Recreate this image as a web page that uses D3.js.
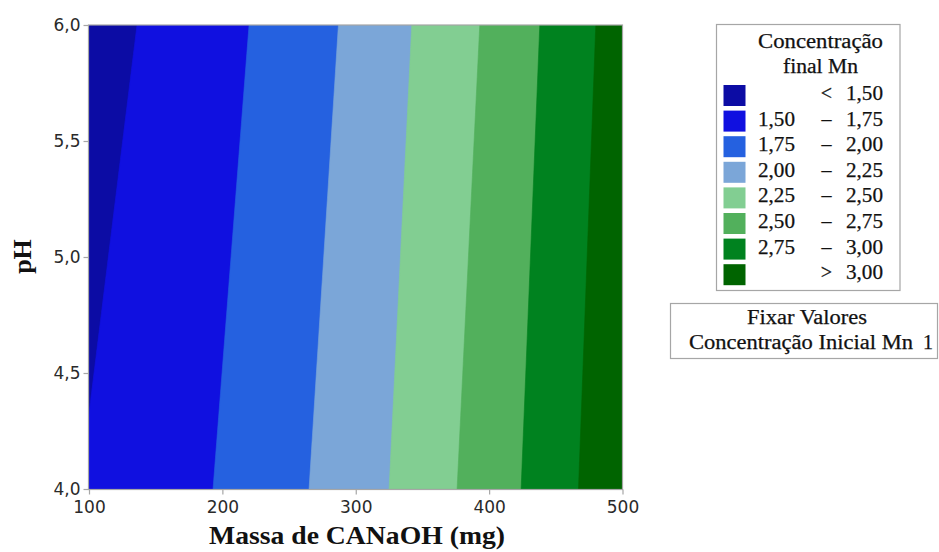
<!DOCTYPE html>
<html>
<head>
<meta charset="utf-8">
<script src="https://cdn.jsdelivr.net/npm/d3@7"></script>
<style>
  html, body { margin: 0; padding: 0; background: #fff; }
  svg { display: block; }
</style>
</head>
<body>
<svg id="chart" width="939" height="552"></svg>
<script>
// Contour levels of the final Mn concentration and where each contour
// line crosses the bottom (pH 4) and top (pH 6) of the plot, in mg.
const levels = [1.50, 1.75, 2.00, 2.25, 2.50, 2.75, 3.00];
const massAtPH4 = [93, 193, 265, 325, 376, 424, 467];
const massAtPH6 = [136, 220, 287, 342, 393, 438, 480];

// Band colours, from "< 1,50" up to "> 3,00".
const bandColors = ["#0c0ca4", "#1010e0", "#2561e0", "#7ba6d8", "#82ce92", "#52b05c", "#00821f", "#006400"];
const legendLow  = ["", "1,50", "1,75", "2,00", "2,25", "2,50", "2,75", ""];
const legendSep  = ["<", "\u2013", "\u2013", "\u2013", "\u2013", "\u2013", "\u2013", ">"];
const legendHigh = ["1,50", "1,75", "2,00", "2,25", "2,50", "2,75", "3,00", "3,00"];

const xTicks = [100, 200, 300, 400, 500];
const yTicks = [4.0, 4.5, 5.0, 5.5, 6.0];
const fmt = v => d3.format(".1f")(v).replace(".", ",");

const svg = d3.select("#chart");
const x = d3.scaleLinear().domain([100, 500]).range([89, 622.5]);
const y = d3.scaleLinear().domain([4, 6]).range([489, 25]);

// Plot area clip
svg.append("defs").append("clipPath").attr("id", "plotClip")
  .append("rect")
  .attr("x", x(100)).attr("y", y(6))
  .attr("width", x(500) - x(100)).attr("height", y(4) - y(6));

const plot = svg.append("g").attr("clip-path", "url(#plotClip)");

// Lowest band fills the whole area, each higher band is painted on top
plot.append("rect")
  .attr("x", x(100)).attr("y", y(6))
  .attr("width", x(500) - x(100)).attr("height", y(4) - y(6))
  .attr("fill", bandColors[0]);

const line = d3.line().x(d => x(d[0])).y(d => y(d[1]));
levels.forEach((lv, i) => {
  const pts = [[massAtPH4[i], 4], [massAtPH6[i], 6], [500, 6], [500, 4]];
  plot.append("path")
    .attr("d", line(pts) + "Z")
    .attr("fill", bandColors[i + 1])
    .attr("stroke", bandColors[i + 1])
    .attr("stroke-width", 0.6);
});

// Frame
const axisColor = "#a6a6a6";
svg.append("rect")
  .attr("x", x(100) - 0.5).attr("y", y(6))
  .attr("width", x(500) - x(100) + 0.5).attr("height", y(4) - y(6) + 0.5)
  .attr("fill", "none").attr("stroke", axisColor).attr("stroke-width", 1.2);

// Axes
const xAxis = svg.append("g").attr("transform", `translate(0,${y(4) + 0.5})`)
  .call(d3.axisBottom(x).tickValues(xTicks).tickSize(5).tickPadding(6).tickFormat(d3.format("d")));
const yAxis = svg.append("g").attr("transform", `translate(${x(100) - 0.5},0)`)
  .call(d3.axisLeft(y).tickValues(yTicks).tickSize(5).tickPadding(3).tickFormat(fmt));

[xAxis, yAxis].forEach(g => {
  g.select(".domain").remove();
  g.selectAll(".tick line").attr("stroke", axisColor).attr("stroke-width", 1.2);
  g.selectAll(".tick text")
    .attr("fill", "#2a2a2a")
    .style("font-family", "'DejaVu Sans', sans-serif")
    .style("font-size", "17px");
});

// Axis titles
svg.append("text")
  .attr("x", 357).attr("y", 544)
  .attr("text-anchor", "middle")
  .attr("textLength", 296).attr("lengthAdjust", "spacingAndGlyphs")
  .style("font-family", "'Liberation Serif', 'Times New Roman', serif")
  .style("font-weight", "bold").style("font-size", "26px")
  .attr("fill", "#111")
  .text("Massa de CANaOH (mg)");

svg.append("text")
  .attr("transform", "translate(31,256.5) rotate(-90)")
  .attr("text-anchor", "middle")
  .style("font-family", "'Liberation Serif', 'Times New Roman', serif")
  .style("font-weight", "bold").style("font-size", "26px")
  .attr("fill", "#111")
  .text("pH");

// Legend
const serif = "'Liberation Serif', 'Times New Roman', serif";
const legend = svg.append("g");
legend.append("rect")
  .attr("x", 716.5).attr("y", 24.5).attr("width", 183.5).attr("height", 266)
  .attr("fill", "#fff").attr("stroke", axisColor).attr("stroke-width", 1.2);

const legText = (tx, ty, s, anchor, len) => {
  const t = legend.append("text")
    .attr("x", tx).attr("y", ty)
    .attr("text-anchor", anchor)
    .style("font-family", serif).style("font-size", "20px")
    .attr("fill", "#111").attr("stroke", "#111").attr("stroke-width", 0.25)
    .text(s);
  if (len) t.attr("textLength", len).attr("lengthAdjust", "spacingAndGlyphs");
  return t;
};
legText(758, 48, "Concentração", "start", 125);
legText(783, 72.5, "final Mn", "start", 75);

bandColors.forEach((c, i) => {
  const top = 85 + i * 25.6;
  legend.append("rect")
    .attr("x", 723.5).attr("y", top).attr("width", 22).attr("height", 21)
    .attr("fill", c);
  if (legendLow[i]) legText(758, top + 15, legendLow[i], "start", 37);
  legText(826.5, top + 15, legendSep[i], "middle");
  legText(883, top + 15, legendHigh[i], "end", 37);
});

// Held-value box
const held = svg.append("g");
held.append("rect")
  .attr("x", 670.5).attr("y", 303.5).attr("width", 267).attr("height", 55)
  .attr("fill", "#fff").attr("stroke", axisColor).attr("stroke-width", 1.2);
const heldText = (tx, ty, s, anchor, len) => {
  const t = held.append("text")
    .attr("x", tx).attr("y", ty).attr("text-anchor", anchor)
    .style("font-family", serif).style("font-size", "20px")
    .attr("fill", "#111").attr("stroke", "#111").attr("stroke-width", 0.25)
    .text(s);
  if (len) t.attr("textLength", len).attr("lengthAdjust", "spacingAndGlyphs");
};
heldText(747, 324, "Fixar Valores", "start", 120);
heldText(689, 349, "Concentração Inicial Mn", "start", 224);
heldText(933, 349, "1", "end");
</script>
</body>
</html>
